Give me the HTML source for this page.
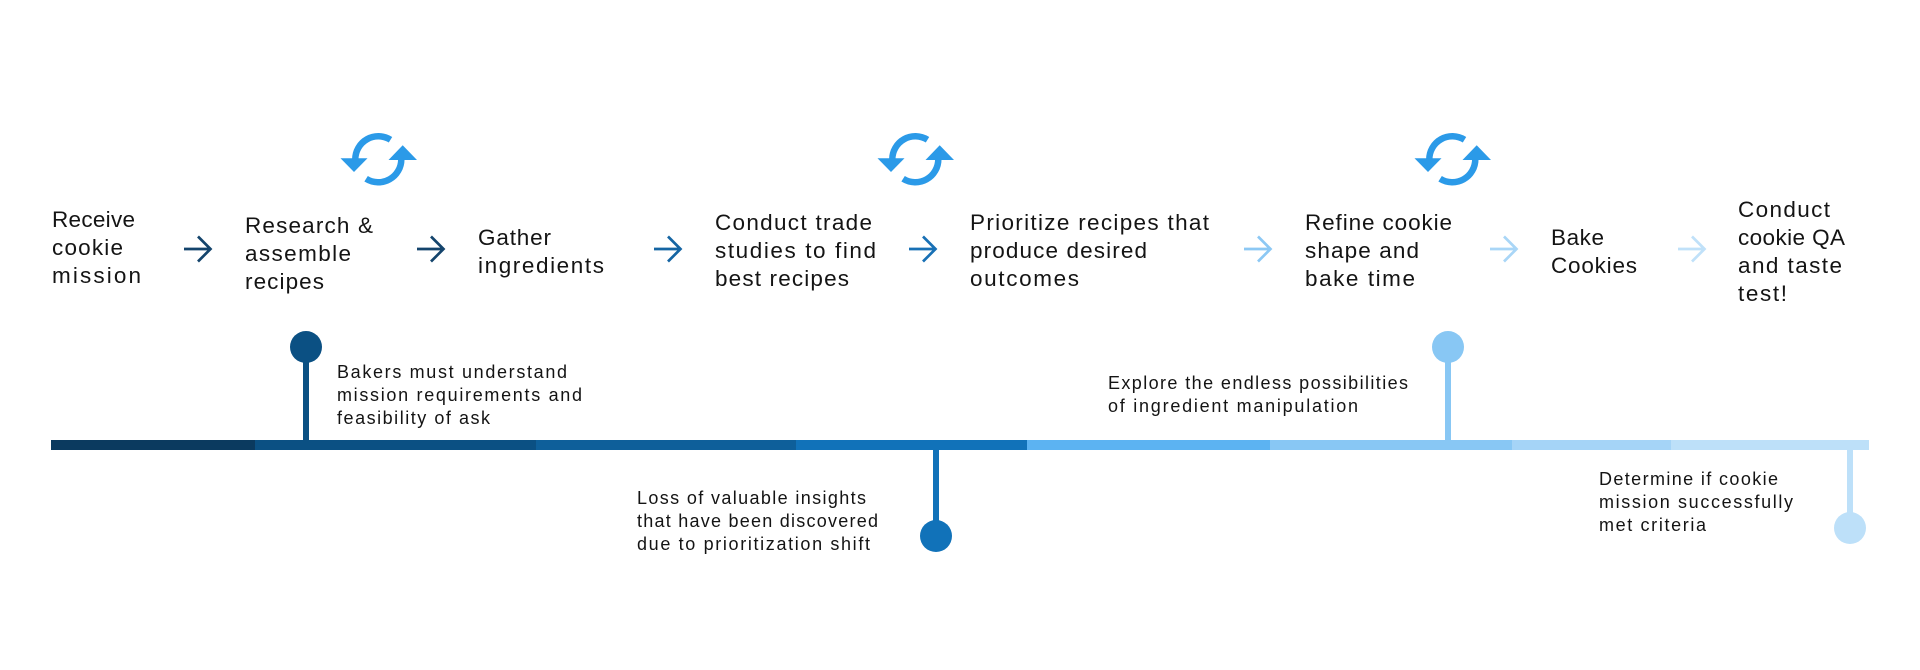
<!DOCTYPE html>
<html>
<head>
<meta charset="utf-8">
<style>
  html, body { margin: 0; padding: 0; background: #ffffff; }
  body { width: 1920px; height: 670px; overflow: hidden; }
  svg { display: block; }
  .step { font-family: "Liberation Sans", sans-serif; font-size: 22.5px; fill: #141414; }
  .note { font-family: "Liberation Sans", sans-serif; font-size: 18px; fill: #141414; }
</style>
</head>
<body>
<svg width="1920" height="670" viewBox="0 0 1920 670" xmlns="http://www.w3.org/2000/svg">
  <rect width="1920" height="670" fill="#ffffff"/>

  <defs>
    <g id="cycle">
      <path d="M70.5,19.8 A23,23 0 0 0 35.3,39.6" fill="none" stroke="#2b9ae8" stroke-width="6.5"/>
      <polygon points="20.5,38.3 47.5,38.3 34,52" fill="#2b9ae8"/>
      <path d="M46.1,58.8 A23,23 0 0 0 81.3,39" fill="none" stroke="#2b9ae8" stroke-width="6.5"/>
      <polygon points="68.5,40 97,40 82.7,25.3" fill="#2b9ae8"/>
    </g>
  </defs>

  <!-- cycle icons -->
  <use href="#cycle" x="320" y="120"/>
  <use href="#cycle" x="857" y="120"/>
  <use href="#cycle" x="1394" y="120"/>

  <!-- step texts -->
  <g class="step">
    <text x="52" y="227" textLength="83" lengthAdjust="spacing">Receive</text>
    <text x="52" y="255" textLength="71" lengthAdjust="spacing">cookie</text>
    <text x="52" y="283" textLength="89" lengthAdjust="spacing">mission</text>

    <text x="245" y="233" textLength="128" lengthAdjust="spacing">Research &amp;</text>
    <text x="245" y="261" textLength="106" lengthAdjust="spacing">assemble</text>
    <text x="245" y="289" textLength="79" lengthAdjust="spacing">recipes</text>

    <text x="478" y="245" textLength="73" lengthAdjust="spacing">Gather</text>
    <text x="478" y="273" textLength="126" lengthAdjust="spacing">ingredients</text>

    <text x="715" y="230" textLength="157" lengthAdjust="spacing">Conduct trade</text>
    <text x="715" y="258" textLength="161" lengthAdjust="spacing">studies to find</text>
    <text x="715" y="286" textLength="134" lengthAdjust="spacing">best recipes</text>

    <text x="970" y="230" textLength="239" lengthAdjust="spacing">Prioritize recipes that</text>
    <text x="970" y="258" textLength="177" lengthAdjust="spacing">produce desired</text>
    <text x="970" y="286" textLength="109" lengthAdjust="spacing">outcomes</text>

    <text x="1305" y="230" textLength="147" lengthAdjust="spacing">Refine cookie</text>
    <text x="1305" y="258" textLength="114" lengthAdjust="spacing">shape and</text>
    <text x="1305" y="286" textLength="110" lengthAdjust="spacing">bake time</text>

    <text x="1551" y="245" textLength="53" lengthAdjust="spacing">Bake</text>
    <text x="1551" y="273" textLength="86" lengthAdjust="spacing">Cookies</text>

    <text x="1738" y="217" textLength="92" lengthAdjust="spacing">Conduct</text>
    <text x="1738" y="245" textLength="107" lengthAdjust="spacing">cookie QA</text>
    <text x="1738" y="273" textLength="104" lengthAdjust="spacing">and taste</text>
    <text x="1738" y="301" textLength="49" lengthAdjust="spacing">test!</text>
  </g>

  <!-- arrows -->
  <g fill="none" stroke-width="2.7" stroke-linecap="butt" stroke-linejoin="miter">
    <g stroke="#14446c">
      <path d="M184,249 H210 M198,236.5 L210.5,249 L198,261.5"/>
      <path d="M417,249 H443 M431,236.5 L443.5,249 L431,261.5"/>
    </g>
    <path stroke="#1565a3" d="M654,249 H680 M668,236.5 L680.5,249 L668,261.5"/>
    <path stroke="#1870b5" d="M909,249 H935 M923,236.5 L935.5,249 L923,261.5"/>
    <path stroke="#8cc8f4" d="M1244,249 H1270 M1258,236.5 L1270.5,249 L1258,261.5"/>
    <path stroke="#a9d6f7" d="M1490,249 H1516 M1504,236.5 L1516.5,249 L1504,261.5"/>
    <path stroke="#c0e1f9" d="M1678,249 H1704 M1692,236.5 L1704.5,249 L1692,261.5"/>
  </g>

  <!-- timeline bar -->
  <rect x="51" y="440" width="204" height="10" fill="#0b3a5f"/>
  <rect x="255" y="440" width="281" height="10" fill="#0b5083"/>
  <rect x="536" y="440" width="260" height="10" fill="#0e5f9a"/>
  <rect x="796" y="440" width="231" height="10" fill="#1172b9"/>
  <rect x="1027" y="440" width="243" height="10" fill="#5cb3f2"/>
  <rect x="1270" y="440" width="242" height="10" fill="#88c7f4"/>
  <rect x="1512" y="440" width="159" height="10" fill="#a5d4f7"/>
  <rect x="1671" y="440" width="198" height="10" fill="#bde0f9"/>

  <!-- pins -->
  <rect x="303" y="347" width="6" height="94" fill="#0b5083"/>
  <circle cx="306" cy="347" r="16" fill="#0b5083"/>

  <rect x="933" y="449" width="6" height="87" fill="#1172b9"/>
  <circle cx="936" cy="536" r="16" fill="#1172b9"/>

  <rect x="1445" y="347" width="6" height="94" fill="#88c7f4"/>
  <circle cx="1448" cy="347" r="16" fill="#88c7f4"/>

  <rect x="1847" y="449" width="6" height="79" fill="#bde0f9"/>
  <circle cx="1850" cy="528" r="16" fill="#bde0f9"/>

  <!-- notes -->
  <g class="note">
    <text x="337" y="378" textLength="230" lengthAdjust="spacing">Bakers must understand</text>
    <text x="337" y="401" textLength="245" lengthAdjust="spacing">mission requirements and</text>
    <text x="337" y="424" textLength="153" lengthAdjust="spacing">feasibility of ask</text>

    <text x="637" y="504" textLength="229" lengthAdjust="spacing">Loss of valuable insights</text>
    <text x="637" y="527" textLength="241" lengthAdjust="spacing">that have been discovered</text>
    <text x="637" y="550" textLength="233" lengthAdjust="spacing">due to prioritization shift</text>

    <text x="1108" y="389" textLength="300" lengthAdjust="spacing">Explore the endless possibilities</text>
    <text x="1108" y="412" textLength="250" lengthAdjust="spacing">of ingredient manipulation</text>

    <text x="1599" y="485" textLength="179" lengthAdjust="spacing">Determine if cookie</text>
    <text x="1599" y="508" textLength="194" lengthAdjust="spacing">mission successfully</text>
    <text x="1599" y="531" textLength="107" lengthAdjust="spacing">met criteria</text>
  </g>
</svg>
</body>
</html>
